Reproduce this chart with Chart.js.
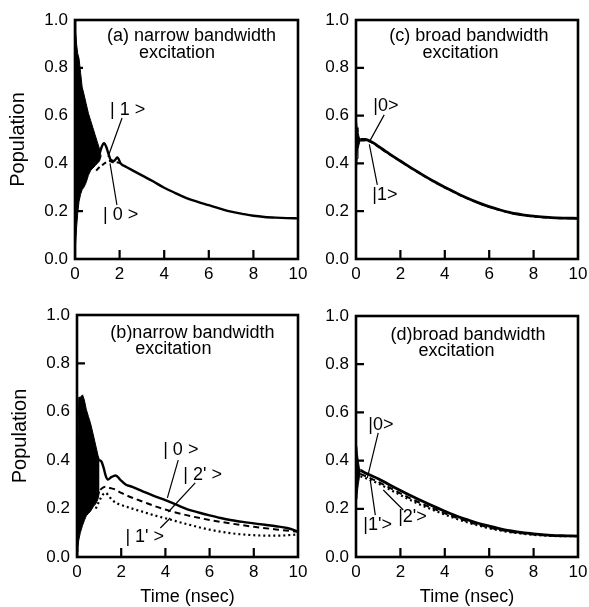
<!DOCTYPE html>
<html>
<head>
<meta charset="utf-8">
<script src="https://cdn.jsdelivr.net/npm/chart.js@4.4.1/dist/chart.umd.min.js"></script>
<style>
  body { margin: 0; background: #fff; overflow: hidden; }
  canvas { position: absolute; }
</style>
</head>
<body>
<canvas id="pa" width="312" height="300" style="left:0;top:0"></canvas>
<canvas id="pc" width="277" height="300" style="left:312px;top:0"></canvas>
<canvas id="pb" width="312" height="307" style="left:0;top:300px"></canvas>
<canvas id="pd" width="277" height="307" style="left:312px;top:300px"></canvas>
<script>
// (a) narrow bandwidth, |0> and |1>
var aEnvT  = [0, 0.03, 0.07, 0.12, 0.18, 0.25, 0.32, 0.4, 0.5, 0.6, 0.7, 0.8, 0.9, 1.0, 1.1, 1.17];
var aEnvHi = [1.0, 0.96, 0.9, 0.86, 0.84, 0.78, 0.72, 0.69, 0.65, 0.61, 0.58, 0.55, 0.52, 0.49, 0.46, 0.43];
var aEnvLo = [0.0, 0.06, 0.13, 0.19, 0.24, 0.27, 0.29, 0.30, 0.32, 0.35, 0.37, 0.38, 0.39, 0.40, 0.41, 0.43];
var aT0 = [1.1, 1.2, 1.3, 1.4, 1.5, 1.6, 1.75, 1.9, 2.05, 2.3, 2.6, 3, 3.5, 4, 4.5, 5, 5.5, 6, 6.5, 7, 7.5, 8, 8.5, 9, 9.5, 10];
var aY0 = [0.44, 0.47, 0.485, 0.47, 0.44, 0.415, 0.41, 0.425, 0.40, 0.385, 0.37, 0.35, 0.325, 0.298, 0.276, 0.255, 0.239, 0.225, 0.211, 0.198, 0.189, 0.181, 0.176, 0.173, 0.171, 0.17];
var aT1 = [0.95, 1.1, 1.25, 1.4, 1.55, 1.7, 1.85, 2.05];
var aY1 = [0.37, 0.385, 0.395, 0.405, 0.41, 0.405, 0.405, 0.40];

// (c) broad bandwidth, |0> and |1>
var cEnvT  = [0, 0.02, 0.05, 0.09, 0.14, 0.2];
var cEnvHi = [0.4, 0.58, 0.55, 0.53, 0.51, 0.5];
var cEnvLo = [0.4, 0.38, 0.42, 0.46, 0.48, 0.5];
var cT  = [0.2, 0.4, 0.6, 0.8, 1, 1.5, 2, 2.5, 3, 3.5, 4, 4.5, 5, 5.5, 6, 6.5, 7, 7.5, 8, 8.5, 9, 9.5, 10];
var cY0 = [0.5, 0.5, 0.495, 0.485, 0.472, 0.44, 0.41, 0.38, 0.352, 0.325, 0.3, 0.277, 0.255, 0.236, 0.219, 0.205, 0.193, 0.185, 0.179, 0.175, 0.172, 0.171, 0.17];
var cY1 = [0.495, 0.496, 0.492, 0.483, 0.47, 0.439, 0.409, 0.379, 0.351, 0.324, 0.299, 0.276, 0.254, 0.235, 0.218, 0.204, 0.192, 0.184, 0.178, 0.174, 0.171, 0.17, 0.17];

// (b) narrow bandwidth, |0>, |1'>, |2'>
var bEnvT  = [0, 0.04, 0.08, 0.15, 0.25, 0.33, 0.42, 0.52, 0.62, 0.75, 0.85, 0.95, 1.02];
var bEnvHi = [0.02, 0.45, 0.66, 0.66, 0.67, 0.65, 0.61, 0.58, 0.55, 0.50, 0.46, 0.42, 0.40];
var bEnvLo = [0.0, 0.04, 0.07, 0.1, 0.13, 0.15, 0.17, 0.18, 0.19, 0.21, 0.22, 0.24, 0.27];
var bT0 = [1.0, 1.1, 1.2, 1.3, 1.4, 1.55, 1.75, 1.95, 2.2, 2.5, 3, 3.5, 4, 4.5, 5, 5.5, 6, 6.5, 7, 7.5, 8, 8.5, 9, 9.5, 9.8, 10];
var bY0 = [0.40, 0.395, 0.37, 0.335, 0.32, 0.33, 0.337, 0.32, 0.30, 0.29, 0.27, 0.252, 0.235, 0.216, 0.197, 0.184, 0.172, 0.161, 0.152, 0.145, 0.139, 0.133, 0.127, 0.12, 0.112, 0.105];
var bT2 = [0.85, 1.0, 1.15, 1.3, 1.5, 1.7, 2, 2.5, 3, 3.5, 4, 5, 6, 7, 8, 9, 10];
var bY2 = [0.24, 0.27, 0.285, 0.29, 0.285, 0.28, 0.265, 0.245, 0.228, 0.211, 0.196, 0.172, 0.153, 0.138, 0.125, 0.114, 0.104];
var bT1 = [0.85, 1.0, 1.15, 1.3, 1.45, 1.6, 1.8, 2, 2.5, 3, 3.5, 4, 5, 6, 7, 8, 9, 10];
var bY1 = [0.2, 0.23, 0.255, 0.265, 0.25, 0.235, 0.222, 0.215, 0.2, 0.186, 0.172, 0.16, 0.135, 0.113, 0.098, 0.09, 0.088, 0.093];

// (d) broad bandwidth, |0>, |1'>, |2'>
var dEnvT  = [0, 0.03, 0.06, 0.1, 0.15, 0.2];
var dEnvHi = [0.26, 0.46, 0.43, 0.4, 0.37, 0.36];
var dEnvLo = [0.26, 0.24, 0.27, 0.3, 0.33, 0.35];
var dT  = [0.2, 0.5, 1, 1.5, 2, 2.5, 3, 3.5, 4, 4.5, 5, 5.5, 6, 6.5, 7, 7.5, 8, 8.5, 9, 9.5, 10];
var dY0 = [0.36, 0.345, 0.325, 0.30, 0.276, 0.253, 0.231, 0.21, 0.19, 0.171, 0.155, 0.14, 0.128, 0.117, 0.108, 0.101, 0.096, 0.092, 0.089, 0.088, 0.087];
var dY2 = [0.345, 0.333, 0.312, 0.288, 0.264, 0.241, 0.22, 0.2, 0.181, 0.164, 0.148, 0.134, 0.122, 0.112, 0.104, 0.098, 0.093, 0.09, 0.088, 0.087, 0.086];
var dY1 = [0.335, 0.325, 0.305, 0.281, 0.257, 0.234, 0.213, 0.194, 0.176, 0.159, 0.144, 0.131, 0.119, 0.11, 0.102, 0.097, 0.092, 0.089, 0.087, 0.086, 0.086];

Chart.defaults.font.family = '"Liberation Sans", Arial, sans-serif';
Chart.defaults.color = '#000';

function pts(t, v) {
    return t.map(function(x, i) { return {x: x, y: v[i]}; });
}

function curve(t, v, dash, w) {
    return {data: pts(t, v), borderColor: '#000', borderWidth: w || 2.4, borderDash: dash || [],
            pointRadius: 0, fill: false, cubicInterpolationMode: 'monotone'};
}

function envelope(t, hi, lo) {
    return [
        {data: pts(t, hi), borderColor: '#000', borderWidth: 1, pointRadius: 0, tension: 0,
         fill: '+1', backgroundColor: '#000'},
        {data: pts(t, lo), borderColor: '#000', borderWidth: 1, pointRadius: 0, tension: 0, fill: false}
    ];
}

// frame, inward ticks, labels and pointer lines
var frame = {
    id: 'frame',
    afterDatasetsDraw: function(chart, args, opts) {
        var ctx = chart.ctx, a = chart.chartArea, x = chart.scales.x, y = chart.scales.y;
        ctx.save();
        ctx.strokeStyle = '#000';
        ctx.lineWidth = 2.6;
        ctx.strokeRect(a.left, a.top, a.right - a.left, a.bottom - a.top);
        ctx.lineWidth = 2.2;
        ctx.beginPath();
        x.ticks.forEach(function(t) {
            if (t.value > 0 && t.value < 10) {
                var px = x.getPixelForValue(t.value);
                ctx.moveTo(px, a.bottom); ctx.lineTo(px, a.bottom - 9);
            }
        });
        y.ticks.forEach(function(t) {
            if (t.value > 0.01 && t.value < 0.99) {
                var py = y.getPixelForValue(t.value);
                ctx.moveTo(a.left, py); ctx.lineTo(a.left + 8, py);
            }
        });
        ctx.stroke();
        ctx.fillStyle = '#000';
        ctx.font = '18px "Liberation Sans", Arial, sans-serif';
        ctx.textAlign = 'left';
        ctx.textBaseline = 'middle';
        opts.notes.forEach(function(n) {
            ctx.fillText(n[0], x.getPixelForValue(n[1]), y.getPixelForValue(n[2]));
        });
        ctx.lineWidth = 1.2;
        ctx.beginPath();
        opts.lines.forEach(function(l) {
            ctx.moveTo(x.getPixelForValue(l[0]), y.getPixelForValue(l[1]));
            ctx.lineTo(x.getPixelForValue(l[2]), y.getPixelForValue(l[3]));
        });
        ctx.stroke();
        ctx.restore();
    }
};

function makeChart(id, datasets, p) {
    return new Chart(document.getElementById(id), {
        type: 'line',
        data: {datasets: datasets},
        plugins: [frame],
        options: {
            responsive: false,
            animation: false,
            layout: {padding: {top: p.top, right: p.right, left: 0, bottom: 0}},
            plugins: {
                legend: {display: false},
                tooltip: {enabled: false},
                frame: {notes: p.notes, lines: p.lines}
            },
            scales: {
                x: {
                    type: 'linear', min: 0, max: 10,
                    grid: {display: false, drawTicks: false},
                    border: {display: false},
                    ticks: {stepSize: 2, padding: 5, maxRotation: 0, font: {size: 17}},
                    title: {display: p.xTitle, text: 'Time (nsec)', font: {size: 18, lineHeight: 1},
                            padding: {top: 0, bottom: 1}},
                    afterFit: function(s) { s.height = p.xH; s.paddingLeft = 0; s.paddingRight = 0; }
                },
                y: {
                    min: 0, max: 1,
                    grid: {display: false, drawTicks: false},
                    border: {display: false},
                    ticks: {stepSize: 0.2, padding: 7, font: {size: 17},
                            callback: function(v) { return v.toFixed(1); }},
                    title: {display: p.yTitle, text: 'Population', font: {size: 20}, padding: {top: p.yPad || 6, bottom: 0}},
                    afterFit: function(s) { s.width = p.yW; s.paddingTop = 0; s.paddingBottom = 0; }
                }
            }
        }
    });
}

makeChart('pa', envelope(aEnvT, aEnvHi, aEnvLo).concat([
    curve(aT1, aY1, [5, 3], 2),
    curve(aT0, aY0)
]), {
    top: 20, right: 14, yW: 75, xH: 41, xTitle: false, yTitle: true,
    notes: [['(a) narrow bandwidth', 1.43, 0.933], ['excitation', 2.87, 0.862],
            ['| 1 >', 1.57, 0.623], ['| 0 >', 1.26, 0.184]],
    lines: [[2.11, 0.59, 1.48, 0.427], [1.88, 0.226, 1.57, 0.40]]
});

makeChart('pc', envelope(cEnvT, cEnvHi, cEnvLo).concat([
    curve(cT, cY1, [5, 3], 2),
    curve(cT, cY0, [], 2.8)
]), {
    top: 20, right: 11, yW: 44, xH: 41, xTitle: false, yTitle: false,
    notes: [['(c) broad bandwidth', 1.5, 0.933], ['excitation', 2.99, 0.862],
            ['|0>', 0.78, 0.64], ['|1>', 0.73, 0.268]],
    lines: [[1.27, 0.603, 0.6, 0.49], [0.96, 0.31, 0.6, 0.48]]
});

makeChart('pb', envelope(bEnvT, bEnvHi, bEnvLo).concat([
    curve(bT1, bY1, [2, 3], 2.2),
    curve(bT2, bY2, [6, 4], 2),
    curve(bT0, bY0)
]), {
    top: 15, right: 14, yW: 77, xH: 50, xTitle: true, yTitle: true, yPad: 8,
    notes: [['(b)narrow bandwidth', 1.51, 0.926], ['excitation', 2.64, 0.86],
            ['| 0 >', 3.9, 0.442], ["| 2' >", 4.81, 0.339], ["| 1' >", 2.19, 0.083]],
    lines: [[4.58, 0.40, 4.09, 0.244], [5.35, 0.306, 4.13, 0.186], [3.77, 0.12, 4.22, 0.161]]
});

makeChart('pd', envelope(dEnvT, dEnvHi, dEnvLo).concat([
    curve(dT, dY1, [2, 3], 2.2),
    curve(dT, dY2, [6, 4], 2),
    curve(dT, dY0, [], 2.8)
]), {
    top: 16, right: 11, yW: 44, xH: 50, xTitle: true, yTitle: false,
    notes: [['(d)broad bandwidth', 1.55, 0.921], ['excitation', 2.81, 0.855],
            ['|0>', 0.55, 0.548], ["|1'>", 0.33, 0.133], ["|2'>", 1.9, 0.166]],
    lines: [[1.0, 0.515, 0.51, 0.328], [0.87, 0.174, 0.64, 0.32], [2.13, 0.195, 1.23, 0.278]]
});
</script>
</body>
</html>
